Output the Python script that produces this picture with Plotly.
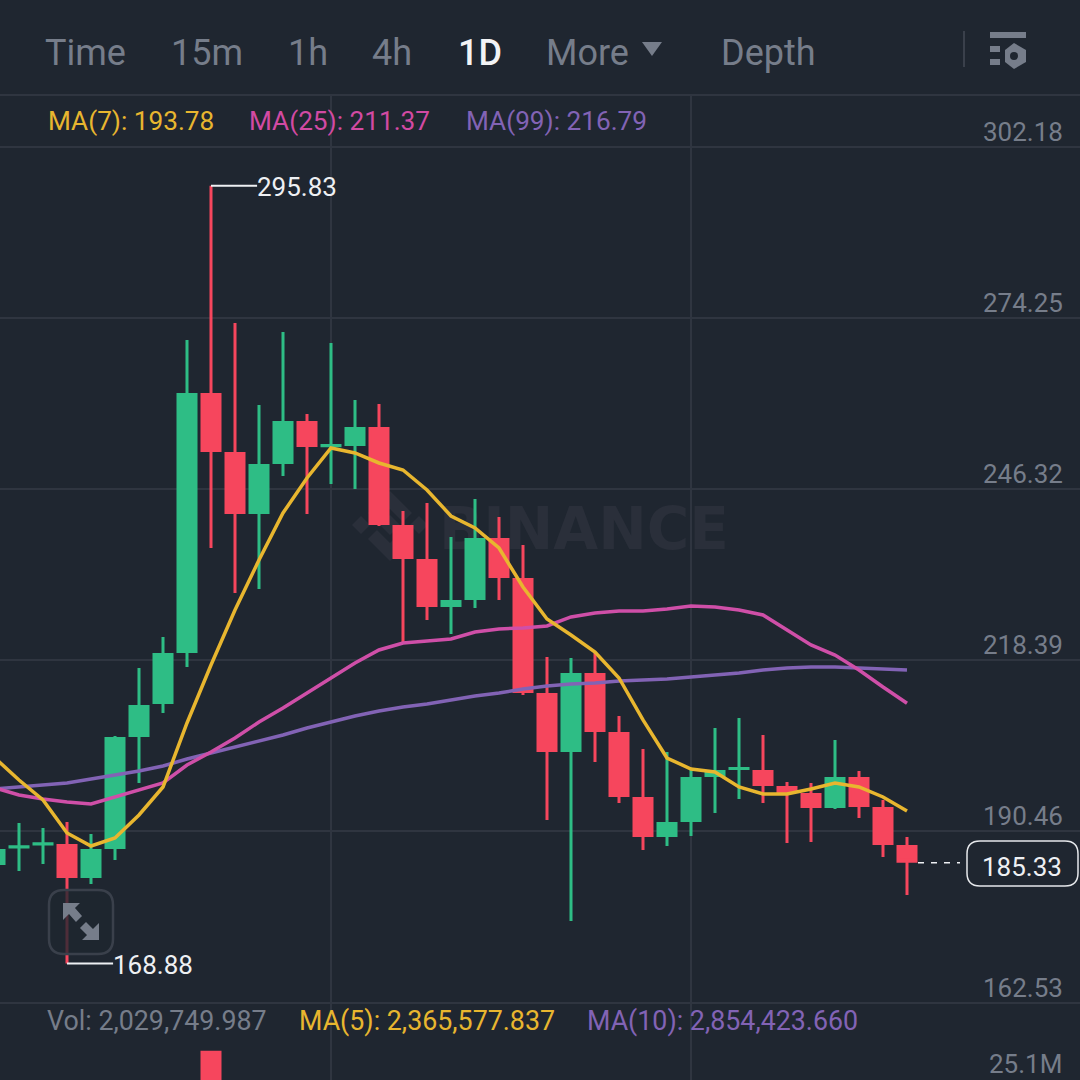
import plotly.graph_objects as go

days = list(range(39))
opens = [184.97, 187.89, 188.38, 188.40, 182.85, 187.58, 205.86, 211.25, 219.57, 262.00,
         252.37, 242.26, 250.41, 257.43, 253.41, 253.35, 256.45, 240.46, 234.91, 227.08,
         228.22, 238.34, 231.81, 213.04, 203.41, 216.31, 206.68, 196.07, 189.54, 191.99,
         199.33, 200.70, 200.47, 197.86, 196.72, 194.27, 199.33, 194.44, 188.24]
highs = [188.56, 191.83, 191.01, 191.99, 190.03, 206.02, 217.12, 222.18, 270.65, 295.83,
         273.43, 260.04, 271.96, 258.58, 270.16, 260.86, 260.21, 242.74, 244.05, 238.50,
         244.70, 241.77, 237.20, 218.92, 218.75, 219.57, 209.29, 203.90, 203.41, 200.80,
         207.33, 208.96, 206.19, 198.52, 198.35, 205.37, 200.31, 195.58, 189.54]
lows = [184.48, 183.99, 185.14, 168.88, 181.87, 185.79, 198.35, 209.78, 217.29, 236.70,
        229.36, 230.01, 248.46, 242.26, 247.15, 246.32, 240.30, 221.20, 224.96, 222.67,
        226.91, 228.22, 212.72, 192.32, 175.83, 201.78, 195.09, 187.42, 188.07, 189.70,
        193.46, 195.74, 195.09, 188.56, 188.73, 194.11, 192.64, 186.28, 180.08]
closes = [187.58, 187.93, 188.42, 182.85, 187.58, 205.86, 211.08, 219.57, 262.00, 252.37,
          242.26, 250.41, 257.43, 253.19, 253.45, 256.45, 240.46, 234.91, 227.08, 228.22,
          238.34, 231.81, 213.04, 203.41, 216.31, 206.68, 196.07, 189.54, 191.99, 199.33,
          200.47, 200.74, 197.86, 196.72, 194.27, 199.33, 194.44, 188.24, 185.33]
ma7 = [202.43, 198.84, 195.58, 190.19, 188.07, 189.38, 193.13, 197.70, 208.15, 217.61,
       226.59, 234.75, 242.42, 248.13, 253.03, 252.21, 250.58, 249.44, 246.17, 241.93,
       239.97, 236.70, 230.34, 225.12, 222.51, 219.73, 215.49, 208.64, 202.43, 200.64,
       200.15, 197.70, 196.56, 196.56, 197.38, 198.35, 197.70, 196.07, 193.78]
ma25 = [197.54, 196.40, 195.74, 195.25, 194.93, 196.07, 197.21, 198.35, 201.29, 203.41,
        205.70, 208.31, 210.59, 213.04, 215.49, 217.94, 220.06, 221.20, 221.53, 221.86,
        223.00, 223.49, 223.65, 223.98, 225.45, 226.10, 226.42, 226.42, 226.75, 227.24,
        227.08, 226.59, 225.77, 223.32, 220.88, 219.24, 216.80, 214.02, 211.37]
ma99 = [197.38, 197.70, 198.03, 198.35, 199.01, 199.66, 200.31, 201.13, 202.27, 203.25,
        204.23, 205.21, 206.19, 207.33, 208.31, 209.29, 210.10, 210.76, 211.25, 211.90,
        212.55, 213.04, 213.70, 214.18, 214.51, 214.67, 215.00, 215.16, 215.33, 215.65,
        215.98, 216.31, 216.80, 217.12, 217.29, 217.29, 217.12, 216.96, 216.79]
price_ticks = [302.18, 274.25, 246.32, 218.39, 190.46, 162.53]
volume_days = [9]
volumes = [28100000]
tabs = ["Time", "15m", "1h", "4h", "1D", "More", "Depth"]
tab_left = [44, 170, 287, 371, 457, 545, 720]

BG = "#1f2630"
GRID = "#2f3540"
GREY = "#767d8a"
GREEN = "#2ebd85"
RED = "#f6465d"
YELLOW = "#e8b62f"
PINK = "#cf4fa8"
PURPLE = "#8263b5"
MARK = "#2a2f3a"
FONT = "Roboto"
STROKE_INSET = 0.24  # the candle outline adds 1.5px round each body


def fx(px):
    return px / 1080


def fy(px):
    return 1 - px / 1080


def poly(points):
    return "M" + " L".join(f"{fx(x):.5f},{fy(y):.5f}" for x, y in points) + " Z"


def rrect(x0, y0, x1, y1, r):
    return (f"M{fx(x0 + r):.5f},{fy(y0):.5f} L{fx(x1 - r):.5f},{fy(y0):.5f} "
            f"Q{fx(x1):.5f},{fy(y0):.5f} {fx(x1):.5f},{fy(y0 + r):.5f} "
            f"L{fx(x1):.5f},{fy(y1 - r):.5f} Q{fx(x1):.5f},{fy(y1):.5f} {fx(x1 - r):.5f},{fy(y1):.5f} "
            f"L{fx(x0 + r):.5f},{fy(y1):.5f} Q{fx(x0):.5f},{fy(y1):.5f} {fx(x0):.5f},{fy(y1 - r):.5f} "
            f"L{fx(x0):.5f},{fy(y0 + r):.5f} Q{fx(x0):.5f},{fy(y0):.5f} {fx(x0 + r):.5f},{fy(y0):.5f} Z")


def paper_shape(path, fill, line=None, width=0, layer="above"):
    return dict(type="path", xref="paper", yref="paper", path=path, fillcolor=fill, layer=layer,
                line=dict(color=line or fill, width=width))


def label(text, left, mid, size, color, **kw):
    return dict(text=text, xref="paper", yref="paper", x=fx(left), y=fy(mid), xanchor="left", yanchor="middle",
                showarrow=False, font=dict(family=FONT, size=size, color=color, **kw), borderpad=0)


def body_edges(a, b):
    # pull open and close in so the stroked body ends where it was read
    if abs(a - b) <= 2 * STROKE_INSET:
        return a, b
    step = STROKE_INSET if b > a else -STROKE_INSET
    return a + step, b - step


edges = [body_edges(a, b) for a, b in zip(opens, closes)]

fig = go.Figure()
fig.add_trace(go.Candlestick(x=days, open=[e[0] for e in edges], high=highs, low=lows, close=[e[1] for e in edges],
                             whiskerwidth=0,
                             increasing=dict(line=dict(color=GREEN, width=3), fillcolor=GREEN),
                             decreasing=dict(line=dict(color=RED, width=3), fillcolor=RED),
                             showlegend=False))
fig.add_trace(go.Scatter(x=days, y=ma99, mode="lines", line=dict(color=PURPLE, width=3.5), showlegend=False))
fig.add_trace(go.Scatter(x=days, y=ma25, mode="lines", line=dict(color=PINK, width=3.5), showlegend=False))
fig.add_trace(go.Scatter(x=days, y=ma7, mode="lines", line=dict(color=YELLOW, width=3.5), showlegend=False))
fig.add_trace(go.Bar(x=volume_days, y=volumes, width=0.875, marker=dict(color=RED, line=dict(width=0)),
                     yaxis="y2", showlegend=False))

annotations = []
for name, left in zip(tabs, tab_left):
    if name == "1D":
        annotations.append(label(name, left, 53, 36, "#f2f3f5", weight=500))
    else:
        annotations.append(label(name, left, 53, 36, GREY))
annotations += [
    label("MA(7): 193.78", 47, 121, 26.2, YELLOW),
    label("MA(25): 211.37", 248, 121, 26.2, "#d24aa3"),
    label("MA(99): 216.79", 465, 121, 26.2, PURPLE),
    label("Vol: 2,029,749.987", 46, 1021, 26.8, GREY),
    label("MA(5): 2,365,577.837", 298, 1021, 26.8, YELLOW),
    label("MA(10): 2,854,423.660", 586, 1021, 26.8, PURPLE),
    label("25.1M", 988, 1064, 26, GREY),
    label("185.33", 981, 867, 26, "#eef0f3"),
]
for tick in price_ticks:
    annotations.append(dict(text=f"{tick:.2f}", xref="paper", yref="y", x=fx(1064), y=tick, yshift=15,
                            xanchor="right", yanchor="middle", showarrow=False, borderpad=0,
                            font=dict(family=FONT, size=26, color=GREY)))
for day, value in [(9, max(highs)), (3, min(lows))]:
    annotations.append(dict(text=f"{value:.2f}", xref="x", yref="y", x=day + 1.88, y=value, xanchor="left",
                            yanchor="middle", showarrow=False, borderpad=0, yshift=-1.5,
                            font=dict(family=FONT, size=26, color="#eef0f3")))

shapes = [
    dict(type="line", xref="paper", yref="paper", x0=0, x1=1, y0=fy(95), y1=fy(95), line=dict(color=GRID, width=2)),
    dict(type="line", xref="paper", yref="paper", x0=0, x1=1, y0=fy(1003), y1=fy(1003), line=dict(color=GRID, width=2)),
    dict(type="line", xref="paper", yref="paper", x0=fx(964), x1=fx(964), y0=fy(31), y1=fy(67), line=dict(color="#3a404b", width=2)),
    dict(type="line", xref="x", yref="y", x0=9, x1=10.92, y0=max(highs), y1=max(highs), line=dict(color="#eef0f3", width=2)),
    dict(type="line", xref="x", yref="y", x0=3, x1=4.92, y0=min(lows), y1=min(lows), line=dict(color="#eef0f3", width=2)),
    dict(type="line", xref="paper", yref="y", x0=fx(918), x1=fx(960), y0=closes[-1], y1=closes[-1],
         line=dict(color="#eef0f3", width=1.5, dash="6px,7px")),
    paper_shape(rrect(967, 841, 1078, 886, 13), BG, "#e6e8eb", 1.5),
    # depth/settings glyphs
    paper_shape(poly([(642, 42), (662, 42), (652, 56)]), GREY),
    paper_shape(poly([(990, 32), (1026, 32), (1026, 38), (990, 38)]), GREY),
    paper_shape(poly([(990, 46), (1000, 46), (1000, 52), (990, 52)]), GREY),
    paper_shape(poly([(990, 59), (1000, 59), (1000, 65), (990, 65)]), GREY),
    paper_shape(poly([(1014, 43), (1026, 50), (1026, 62), (1014, 69), (1005, 62), (1005, 50)]), GREY),
    paper_shape(rrect(1010, 52, 1018, 60, 4), BG),
    # expand button
    paper_shape(rrect(49, 890, 113, 954, 15), "rgba(31,38,48,0.78)", "#3a404b", 2.5),
    paper_shape(poly([(63, 903), (80, 903), (75, 908), (82, 916), (76, 922), (69, 914), (63, 920)]), GREY),
    paper_shape(poly([(99, 940), (82, 940), (87, 935), (80, 928), (86, 922), (93, 929), (99, 923)]), GREY),
    # watermark
    dict(type="rect", xref="paper", yref="paper", layer="below", x0=fx(440), x1=fx(728), y0=fy(550), y1=fy(500),
         line=dict(width=0), fillcolor="rgba(0,0,0,0)",
         label=dict(text="BINANCE", font=dict(family="DejaVu Sans", size=58, color=MARK, weight=700),
                    textposition="middle center")),
    paper_shape(poly([(390, 491), (412, 513), (403, 522), (390, 509), (377, 522), (368, 513)]), MARK, layer="below"),
    paper_shape(poly([(390, 561), (412, 539), (403, 530), (390, 543), (377, 530), (368, 539)]), MARK, layer="below"),
    paper_shape(poly([(361, 516), (370, 525), (361, 534), (352, 525)]), MARK, layer="below"),
    paper_shape(poly([(419, 516), (428, 525), (419, 534), (410, 525)]), MARK, layer="below"),
    paper_shape(poly([(390, 515), (400, 525), (390, 535), (380, 525)]), MARK, layer="below"),
]

fig.update_layout(
    width=1080, height=1080, margin=dict(l=0, r=0, t=0, b=0),
    paper_bgcolor=BG, plot_bgcolor=BG, boxgap=0.25, boxgroupgap=0, bargap=0.125,
    annotations=annotations, shapes=shapes, hovermode=False,
    xaxis=dict(range=[0.2083, 45.2083], domain=[0, 1], anchor="y", rangeslider=dict(visible=False),
               tickvals=[14, 29], showticklabels=False, ticks="", showgrid=True, gridcolor=GRID, gridwidth=1.5, zeroline=False),
    yaxis=dict(domain=[fy(1003), fy(96)], range=[162.45, 310.47], tickvals=price_ticks, showticklabels=False,
               ticks="", showgrid=True, gridcolor=GRID, gridwidth=1.5, zeroline=False),
    yaxis2=dict(domain=[0, fy(1003)], range=[25100000, 33000000], showticklabels=False, ticks="", showgrid=False,
                zeroline=False),
)

fig.write_html("out.html", config=dict(displayModeBar=False), post_script="document.body.style.margin='0';")
